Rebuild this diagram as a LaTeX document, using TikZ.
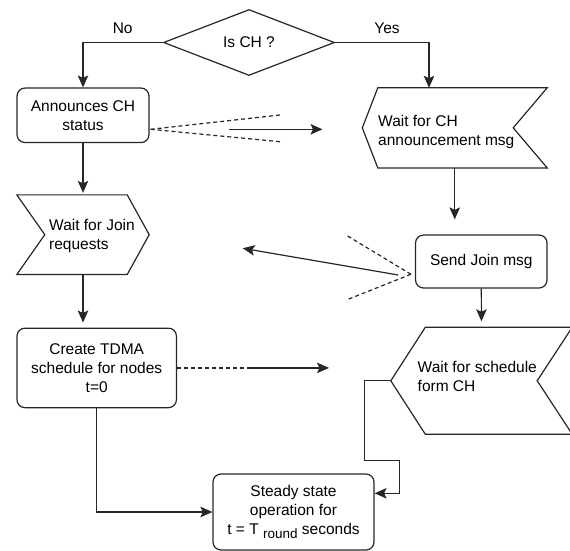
\documentclass[tikz,border=0pt]{standalone}
\usepackage{fontspec}
\setmainfont{Liberation Sans}
\usetikzlibrary{arrows.meta, shapes.geometric, calc}

\begin{document}
\begin{tikzpicture}[x=1pt, y=-1pt,
    every node/.style={font=\fontsize{15.5}{18.8}\selectfont, text=black},
    line/.style={draw=black!85, line width=1.2pt},
    arrow/.style={line, -{Stealth[length=12pt, width=10.5pt, inset=2.5pt]}},
    dashedline/.style={line, dash pattern=on 4pt off 3pt},
    process/.style={line, rectangle, rounded corners=8pt, align=center, inner sep=0pt},
    decision/.style={line, diamond, inner sep=0pt, minimum width=171pt, minimum height=66pt},
    frame/.style={rectangle, inner sep=0pt},
    boxtext/.style={align=left, anchor=west, inner sep=0pt}]
    \useasboundingbox (0,0) rectangle (570,551);
    % Define the nodes
    \node[decision] (isch) at (249,42.5) {Is CH ?};
    \node[process, minimum width=132pt, minimum height=54.5pt] (ann) at (83,115.3) {Announces CH\\status};
    \node[frame, minimum width=184.5pt, minimum height=79.7pt] (wch) at (454.75,127.85) {};
    \node[frame, minimum width=132pt, minimum height=79.3pt] (wjoin) at (83,234.7) {};
    \node[process, minimum width=131.5pt, minimum height=53pt] (sj) at (481.3,261.5) {Send Join msg};
    \node[process, minimum width=159.5pt, minimum height=79.5pt] (tdma) at (96.7,367.9) {Create TDMA\\schedule for nodes\\t=0};
    \node[frame, minimum width=181pt, minimum height=106.5pt] (wsch) at (481.5,380.75) {};
    \node[process, minimum width=161pt, minimum height=76pt] (steady) at (293.5,512)
        {Steady state\\operation for\\t = T\ \raisebox{-4pt}{\fontsize{13.5}{13.5}\selectfont round} seconds};
    % Define the shapes of the waiting steps
    \draw[line] ($(wch.north west)+(15.5,0)$) -- (wch.north east) -- ($(wch.east)+(-34,0)$) -- (wch.south east)
        -- ($(wch.south west)+(15.5,0)$) -- (wch.west) -- cycle;
    \draw[line] (wjoin.north west) -- ($(wjoin.north east)+(-22,0)$) -- (wjoin.east) -- ($(wjoin.south east)+(-22,0)$)
        -- (wjoin.south west) -- ($(wjoin.west)+(28,0)$) -- cycle;
    \draw[line] ($(wsch.north west)+(34.5,0)$) -- (wsch.north east) -- ($(wsch.east)+(-35,0)$) -- (wsch.south east)
        -- ($(wsch.south west)+(34.5,0)$) -- (wsch.west) -- cycle;
    \node[boxtext] (wchtxt) at (378,132) {Wait for CH\\announcement msg};
    \node[boxtext] (wjointxt) at (49,236) {Wait for Join\\requests};
    \node[boxtext] (wschtxt) at (417.5,376.7) {Wait for schedule\\form CH};
    % Define the transitions
    \draw[arrow] (isch.west) -| (ann.north);
    \draw[arrow] (isch.east) -| ([xshift=-25.75pt]wch.north);
    \node (no) at (122.7,28) {No};
    \node (yes) at (387,28) {Yes};
    \draw[arrow, shorten >=2pt] (ann.south) -- (wjoin.north);
    \draw[arrow, shorten >=15pt] (wch.south) -- (wch.south |- sj.north);
    \draw[arrow, shorten >=5pt] (wjoin.south) -- (wjoin.south |- tdma.north);
    \draw[arrow, shorten >=6pt] (sj.south) -- (wsch.north);
    \draw[arrow] (tdma.south) |- (steady.west);
    \draw[arrow] (wsch.west) -- ++(-26.3,0) -- ++(0,80) -- ++(34.6,0) |- ([yshift=18.7pt]steady.east);
    % Define the messages
    \coordinate (annfan) at ([xshift=1pt, yshift=-14pt]ann.east);
    \coordinate (annup) at (280,115);
    \coordinate (anndown) at (280,141.7);
    \coordinate (annfrom) at (229,129.3);
    \coordinate (annto) at (322.5,129.3);
    \draw[dashedline] (annfan) -- (annup);
    \draw[dashedline] (annfan) -- (anndown);
    \draw[arrow] (annfrom) -- (annto);
    \coordinate (sjfan) at ([xshift=-4pt, yshift=-12.8pt]sj.west);
    \coordinate (sjup) at (346,235);
    \coordinate (sjdown) at (348,299.3);
    \coordinate (sjfrom) at (398.3,275);
    \coordinate (sjto) at (242.7,248.3);
    \draw[dashedline] (sjfan) -- (sjup);
    \draw[dashedline] (sjfan) -- (sjdown);
    \draw[arrow] (sjfrom) -- (sjto);
    \coordinate (tdmamid) at (247,367.9);
    \coordinate (tdmato) at (329,367.9);
    \draw[dashedline] (tdma.east) -- (tdmamid);
    \draw[arrow] (tdmamid) -- (tdmato);
\end{tikzpicture}
\end{document}
